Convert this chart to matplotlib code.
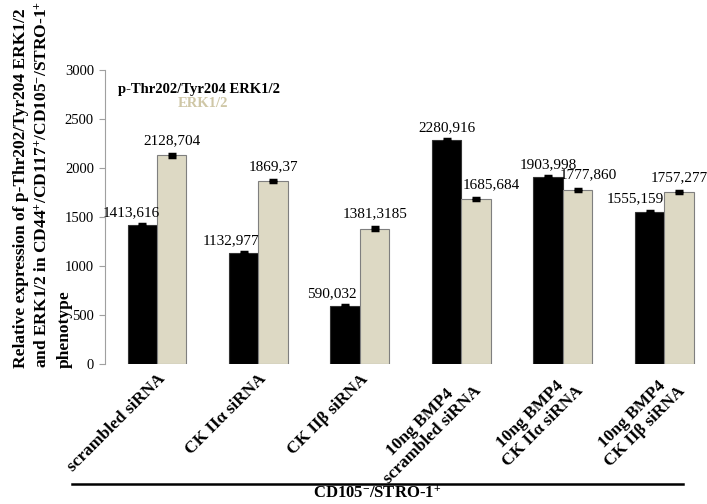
import numpy as np
import matplotlib
matplotlib.use("Agg")
import matplotlib.pyplot as plt

categories = [
    "scrambled siRNA",
    "CK IIα siRNA",
    "CK IIβ siRNA",
    "10ng BMP4\nscrambled siRNA",
    "10ng BMP4\nCK IIα siRNA",
    "10ng BMP4\nCK IIβ siRNA",
]
p_erk = [1413.616, 1132.977, 590.032, 2280.916, 1903.998, 1555.159]
total_erk = [2128.704, 1869.37, 1381.3185, 1685.684, 1777.860, 1757.277]
p_erk_labels = ["1413,616", "1132,977", "590,032", "2280,916", "1903,998", "1555,159"]
total_erk_labels = ["2128,704", "1869,37", "1381,3185", "1685,684", "1777,860", "1757,277"]
p_erk_err = [10, 10, 10, 10, 10, 10]
total_erk_err = [12, 12, 12, 12, 12, 12]
series_names = ["p-Thr202/Tyr204 ERK1/2", "ERK1/2"]
yticks = [0, 500, 1000, 1500, 2000, 2500, 3000]

SERIF = ["Liberation Serif", "DejaVu Serif"]
plt.rcParams["font.family"] = SERIF
plt.rcParams["mathtext.fontset"] = "custom"
plt.rcParams["mathtext.rm"] = "Liberation Serif:bold"
plt.rcParams["mathtext.bf"] = "Liberation Serif:bold"
plt.rcParams["mathtext.it"] = "Liberation Serif:bold"

BLACK = "#000000"
TAN = "#DDD9C4"
TAN_TEXT = "#CFC7A6"

fig = plt.figure(figsize=(7.07, 5.04), dpi=100)
ax = fig.add_axes([0.1485, 0.2778, 0.8515, 0.5833])

x = np.arange(len(categories))
w = 0.29
ax.bar(x - w / 2, p_erk, w, color=BLACK, edgecolor="#333333", linewidth=0.8, zorder=2)
ax.bar(x + w / 2, total_erk, w, color=TAN, edgecolor="#7f7f7f", linewidth=0.8, zorder=2)
ax.errorbar(x - w / 2, p_erk, yerr=p_erk_err, fmt="none", ecolor="black",
            elinewidth=1, capsize=3, capthick=2.5, zorder=3)
ax.errorbar(x + w / 2, total_erk, yerr=total_erk_err, fmt="none", ecolor="black",
            elinewidth=1, capsize=3, capthick=2.5, zorder=3)

# value labels, some nudged sideways to avoid overlapping neighbours
p_dx = [-11, -13, -13, 0, 0, -14]
t_dx = [0, 0, 0, 15, 11, 0]
for i in range(len(categories)):
    ax.annotate(p_erk_labels[i], (x[i] - w / 2, p_erk[i]),
                xytext=(p_dx[i] * 0.72, 9), textcoords="offset points",
                ha="center", va="center", fontsize=11)
    ax.annotate(total_erk_labels[i], (x[i] + w / 2, total_erk[i]),
                xytext=(t_dx[i] * 0.72, 10.5), textcoords="offset points",
                ha="center", va="center", fontsize=11)

ax.set_ylim(0, 3000)
ax.set_xlim(-0.512, 5.42)
ax.set_yticks(yticks)
ax.set_yticklabels([str(v) for v in yticks], fontsize=10.5)
ax.tick_params(axis="y", length=4, color="#a0a0a0", pad=4)

for s in ["top", "right", "bottom"]:
    ax.spines[s].set_visible(False)
ax.spines["left"].set_color("#a0a0a0")

ax.set_xticks(x)
ax.set_xticklabels(categories, rotation=45, ha="right", va="top",
                   rotation_mode="anchor", fontsize=12.5, fontweight="bold",
                   multialignment="center", linespacing=1.1)
ax.tick_params(axis="x", length=0, pad=5)

# series key written as coloured text
ax.text(0.022, 0.935, series_names[0], transform=ax.transAxes, color=BLACK,
        fontsize=10.5, fontweight="bold", ha="left", va="center")
ax.text(0.121, 0.885, series_names[1], transform=ax.transAxes, color=TAN_TEXT,
        fontsize=10.5, fontweight="bold", ha="left", va="center")

fig.text(0.019, 0.27,
         "Relative expression of p-Thr202/Tyr204 ERK1/2\n"
         r"and ERK1/2 in CD44$^{+}$/CD117$^{+}$/CD105$^{-}$/STRO-1$^{+}$" "\n"
         "phenotype",
         rotation=90, ha="left", va="bottom", multialignment="left",
         fontsize=12.5, fontweight="bold", linespacing=1.42)

# group bracket under the categories
fig.add_artist(plt.Line2D([72 / 707, 683 / 707], [1 - 484 / 504, 1 - 484 / 504],
                          transform=fig.transFigure, color="black", linewidth=1.8))
fig.text(377 / 707, 1 - 494 / 504, r"CD105$^{-}$/STRO-1$^{+}$", ha="center", va="center",
         fontsize=12, fontweight="bold")

fig.savefig("out.png", dpi=100)
